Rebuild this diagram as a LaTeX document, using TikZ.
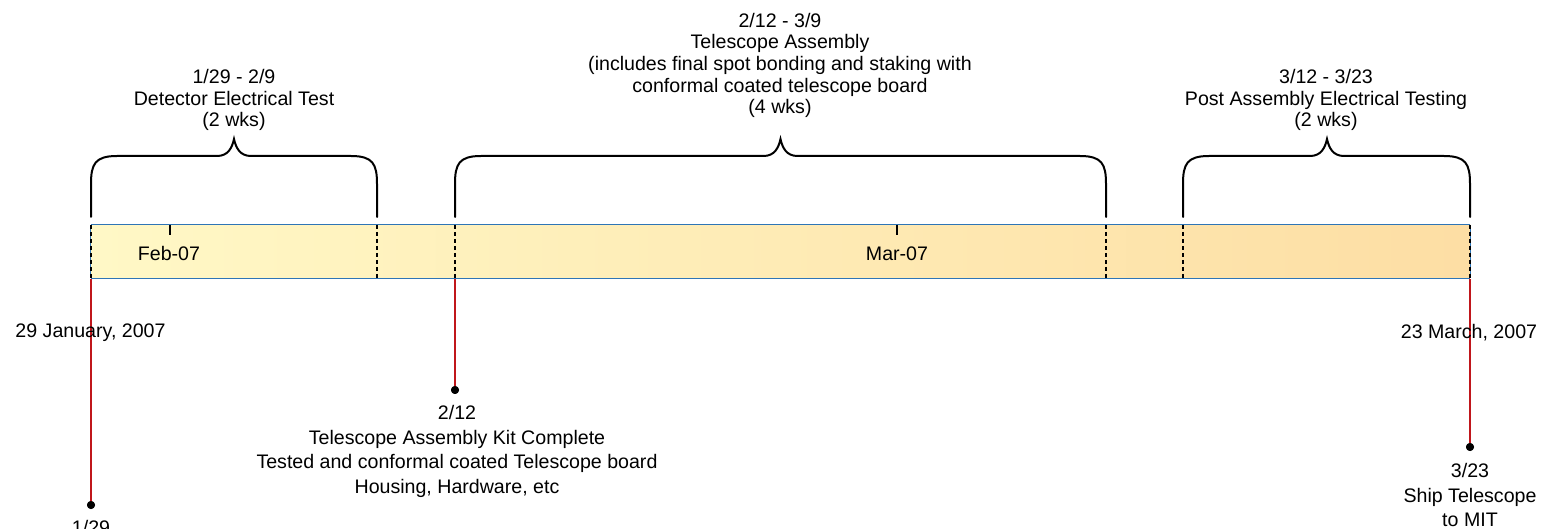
\documentclass[tikz,border=0pt]{standalone}
\usepackage{fontspec}
\setmainfont{Liberation Sans}
\definecolor{barL}{HTML}{FFF8C6}
\definecolor{barR}{HTML}{FDDEA4}
\definecolor{barEdge}{HTML}{2E75B6}
\definecolor{msRed}{HTML}{C0161B}
\tikzset{
  lbl/.style={align=center, inner sep=0pt, font=\fontsize{19.6}{21.7}\selectfont},
  lblb/.style={align=center, inner sep=0pt, font=\fontsize{19.6}{24.6}\selectfont},
  bracepath/.style={line width=2pt, line cap=round},
  phase/.style={dashed, dash pattern=on 4pt off 3pt, line width=1.2pt},
  edge/.style={barEdge, line width=1.3pt},
  msline/.style={msRed, line width=1.6pt},
  msdot/.style={circle, fill=black, inner sep=0pt, minimum size=8pt},
  tickmark/.style={line width=1.2pt}
}
\newcommand{\mybrace}[3]{% left, right, tip x
  \draw[bracepath] (#1,-217) -- (#1,-184)
    .. controls (#1,-164) and (#1+4,-156) .. (#1+26,-156)
    -- (#3-17,-156) .. controls (#3-6,-156) and (#3-2,-148) .. (#3,-139)
    .. controls (#3+2,-148) and (#3+6,-156) .. (#3+17,-156)
    -- (#2-26,-156) .. controls (#2-4,-156) and (#2,-164) .. (#2,-184)
    -- (#2,-217);}
\begin{document}
\begin{tikzpicture}[x=1pt,y=1pt]
\useasboundingbox (0,0) rectangle (1543,-529);
% bar
\node[inner sep=0pt, minimum width=1379pt, minimum height=53pt, left color=barL, right color=barR, draw=none] (bar) at (780.5,-251.5) {};
\draw[edge] (bar.north west) -- (bar.north east);
\draw[edge] (bar.south west) -- (bar.south east);
\draw[edge] (bar.north west) -- (bar.south west);
\draw[edge] (bar.north east) -- (bar.south east);
% phase boundaries
\foreach \x in {91,377,455,1106,1183,1470} {
  \draw[phase] (\x,-225) -- (\x,-278);
}
% month ticks
\draw[tickmark] (170,-225) -- (170,-235);
\draw[tickmark] (897,-225) -- (897,-235);
\node[lbl] (feb) at (169,-253) {Feb-07};
\node[lbl] (mar) at (897,-253.5) {Mar-07};
% braces
\mybrace{91}{377}{234}
\mybrace{455}{1106}{780.5}
\mybrace{1183}{1470}{1327}
% phase labels
\node[lbl] (p1) at (234,-100) {1/29 - 2/9\\Detector Electrical Test\\(2 wks)};
\node[lbl] (p2) at (780,-65.5) {2/12 - 3/9\\Telescope Assembly\\(includes final spot bonding and staking with\\conformal coated telescope board\\(4 wks)};
\node[lbl] (p3) at (1326,-100) {3/12 - 3/23\\Post Assembly Electrical Testing\\(2 wks)};
% milestones
\coordinate (s1) at (91,-279);
\coordinate (s2) at (455,-279);
\coordinate (s3) at (1470,-279);
\node[msdot] (d1) at (91,-505) {};
\node[msdot] (d2) at (455,-390) {};
\node[msdot] (d3) at (1470,-447) {};
\draw[msline] (s1) -- (d1.center);
\draw[msline] (s2) -- (d2.center);
\draw[msline] (s3) -- (d3.center);
\node[msdot] at (91,-505) {};
\node[msdot] at (455,-390) {};
\node[msdot] at (1470,-447) {};
% date labels
\node[lbl] (start) at (90.5,-333) {29 January, 2007};
\node[lbl] (end) at (1469,-333) {23 March, 2007};
% milestone labels
\node[lbl, anchor=north] (m1) at (91,-520) {1/29};
\node[lblb, anchor=north] (m2) at (457,-405) {2/12\\Telescope Assembly Kit Complete\\Tested and conformal coated Telescope board\\Housing, Hardware, etc};
\node[lblb, anchor=north] (m3) at (1470,-463) {3/23\\Ship Telescope\\to MIT};
\end{tikzpicture}
\end{document}
